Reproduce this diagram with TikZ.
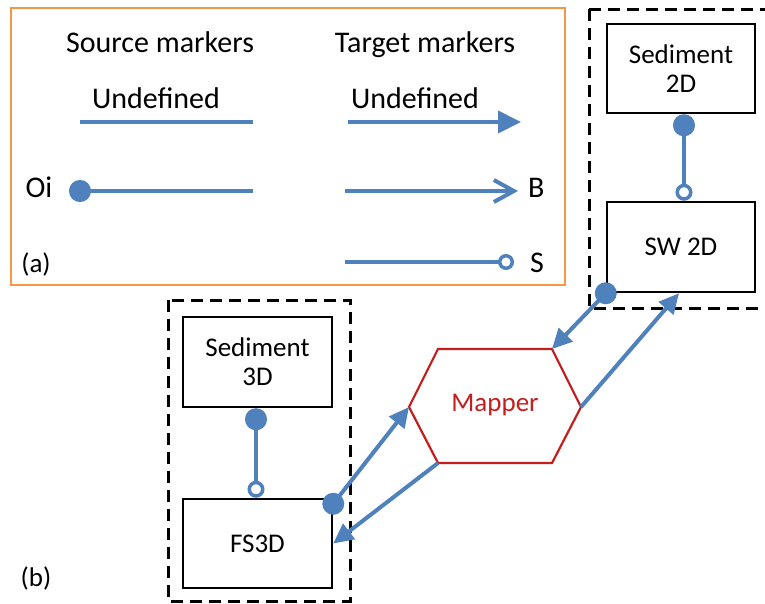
\documentclass[tikz,border=0pt]{standalone}
\usepackage{fontspec}
\setmainfont{Carlito}
\usetikzlibrary{arrows.meta}
\definecolor{lblue}{RGB}{79,129,189}
\definecolor{lorange}{RGB}{247,150,70}
\definecolor{lred}{RGB}{196,30,30}
\begin{document}
\begin{tikzpicture}[x=1pt,y=-1pt,
  txt/.style={font=\fontsize{27}{29}\selectfont, inner sep=0pt},
  ltxt/.style={font=\fontsize{30}{32}\selectfont, inner sep=0pt},
  comp/.style={draw=black, line width=2.5pt, minimum width=148pt, minimum height=89pt, align=center, font=\fontsize{27}{29}\selectfont, inner sep=0pt},
  conn/.style={draw=lblue, line width=4pt},
  grp/.style={draw=black, line width=3pt, dash pattern=on 12pt off 7pt},
  tri/.style={-{Triangle[length=20pt,width=19pt]}},
  dot/.style={fill=lblue}
]
\clip (0,0) rectangle (765,603);
\fill[white] (0,0) rectangle (765,603);

% ---------- legend (a) ----------
\draw[draw=lorange, line width=2.5pt] (11,8) rectangle (565,285);
\node[ltxt, anchor=base] (srch) at (160,52) {Source markers};
\node[ltxt, anchor=base] (tgth) at (425,52) {Target markers};
\node[ltxt, anchor=base] (su) at (156,108) {Undefined};
\node[ltxt, anchor=base] (tu) at (415,108) {Undefined};
\coordinate (s1a) at (80,122); \coordinate (s1b) at (253,122);
\coordinate (t1a) at (348,122); \coordinate (t1b) at (521,122);
\draw[conn] (s1a) -- (s1b);
\draw[conn, -{Triangle[length=23pt,width=22pt]}] (t1a) -- (t1b);
\node[ltxt, anchor=base] (oi) at (39,197) {Oi};
\coordinate (s2a) at (69,191); \coordinate (s2b) at (253,191);
\draw[conn, {Circle[length=22pt]}-] (s2a) -- (s2b);
\coordinate (t2a) at (345,191); \coordinate (t2b) at (518,191);
\draw[conn, -{Straight Barb[length=20pt,width=22pt,line width=4pt]}] (t2a) -- (t2b);
\node[ltxt, anchor=base west] (bl) at (528,197) {B};
\coordinate (t3a) at (345,262); \coordinate (t3b) at (514,262);
\draw[conn, -{Circle[open,length=16pt,line width=3.5pt]}] (t3a) -- (t3b);
\node[ltxt, anchor=base west] (sl) at (530,272) {S};
\node[txt, anchor=base] (la) at (36,272) {(a)};

% ---------- groups ----------
\draw[grp] (589,9) -- (780,9);
\draw[grp] (589,9) -- (589,308) -- (780,308);
\draw[grp] (168,300) rectangle (350,601);
\node[txt, anchor=base] (lb) at (36,586) {(b)};

% ---------- components ----------
\node[comp] (sed2) at (681,68.5) {Sediment\\2D};
\node[comp, minimum height=90pt] (sw2) at (681,247) {SW 2D};
\node[comp, minimum width=149pt, minimum height=90pt] (sed3) at (257.5,362) {Sediment\\3D};
\node[comp, minimum width=149pt] (fs3) at (257.5,543.5) {FS3D};

% ---------- mapper ----------
\coordinate (mL) at (409,407);
\coordinate (mTL) at (438,349);
\coordinate (mTR) at (552,349);
\coordinate (mR) at (581,407);
\coordinate (mBR) at (552,463);
\coordinate (mBL) at (438,463);
\draw[draw=lred, line width=2.2pt, line join=miter] (mL) -- (mTL) -- (mTR) -- (mR) -- (mBR) -- (mBL) -- cycle;
\node[txt, text=lred] (mapper) at (495,405) {Mapper};

% ---------- connectors ----------
\draw[conn, {Circle[length=22pt]}-{Circle[open,length=17pt,line width=3.5pt]}] ([xshift=3pt]sed2.south) -- ([xshift=3pt]sw2.north);
\draw[conn, {Circle[length=22pt]}-{Circle[open,length=17pt,line width=3.5pt]}] ([xshift=-1.5pt]sed3.south) -- ([xshift=-1.5pt]fs3.north);

\coordinate (fsdot) at ([yshift=-6pt]fs3.north east);
\fill[dot] (fsdot) circle (11pt);
\draw[conn, tri] (fsdot) -- (mL);
\draw[conn, tri] (mBL) -- (fs3.east);

\coordinate (swdot) at (sw2.south west);
\fill[dot] (swdot) circle (11pt);
\draw[conn, tri] (swdot) -- (mTR);
\draw[conn, tri] (mR) -- ([xshift=-2pt]sw2.south);
\end{tikzpicture}
\end{document}
